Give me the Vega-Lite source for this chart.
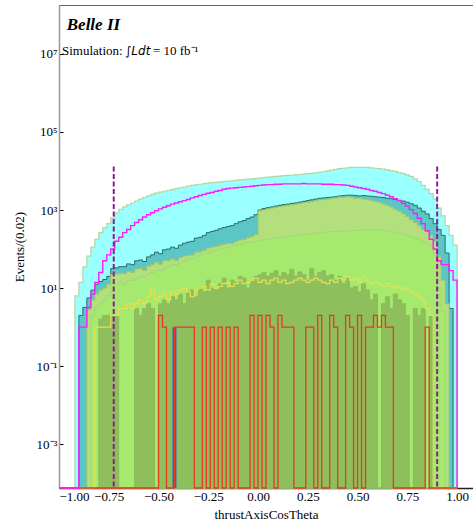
{
"$schema":"https://vega.github.io/schema/vega-lite/v6.json",
"width":414,"height":483,
"autosize":{"type":"none"},
"padding":{"left":59,"top":5,"right":0,"bottom":38},
"background":"white",
"config":{
 "view":{"stroke":"#666","strokeWidth":1},
 "mark":{"invalid":"show"},
 "axis":{"grid":false,"labelFont":"Liberation Serif","labelFontSize":13,"labelColor":"#000","titleFont":"Liberation Serif","titleFontSize":13,"titleFontWeight":"normal","titleColor":"#000","tickColor":"#000","tickSize":-4,"labelPadding":6,"zindex":1}
},
"data":{"values":[
{"x":-1.00,"c":0,"t":0,"g":0,"m":0,"o":0,"yl":0,"p":0,"r":0},
{"x":-0.98,"c":0,"t":0,"g":0,"m":0,"o":0,"yl":0,"p":0,"r":0},
{"x":-0.96,"c":0,"t":0,"g":0,"m":0,"o":0,"yl":0,"p":0,"r":0},
{"x":-0.94,"c":0,"t":0,"g":0,"m":0,"o":0,"yl":0,"p":0,"r":0},
{"x":-0.92,"c":6.3,"t":0,"g":0,"m":0,"o":0,"yl":0,"p":0,"r":0},
{"x":-0.90,"c":14,"t":2,"g":0,"m":0,"o":0,"yl":0,"p":1,"r":0},
{"x":-0.88,"c":35,"t":3.2,"g":0,"m":0,"o":0,"yl":0,"p":1,"r":0},
{"x":-0.86,"c":66,"t":5.6,"g":2.8,"m":0,"o":0,"yl":0,"p":3.2,"r":0},
{"x":-0.84,"c":112,"t":8.9,"g":5,"m":2,"o":0,"yl":0,"p":7,"r":0},
{"x":-0.82,"c":178,"t":12.6,"g":7.1,"m":3.2,"o":0,"yl":1,"p":14,"r":0},
{"x":-0.80,"c":263,"t":14.8,"g":8.9,"m":4,"o":1.6,"yl":1,"p":25,"r":0},
{"x":-0.78,"c":355,"t":16.6,"g":10,"m":5,"o":2,"yl":1,"p":50,"r":0},
{"x":-0.76,"c":447,"t":20,"g":12.6,"m":6.3,"o":2,"yl":1,"p":71,"r":0},
{"x":-0.74,"c":631,"t":31.6,"g":22.4,"m":12.6,"o":2,"yl":2,"p":100,"r":0},
{"x":-0.72,"c":851,"t":33,"g":22.9,"m":12.6,"o":2,"yl":2,"p":158,"r":0},
{"x":-0.70,"c":1047,"t":35.5,"g":24,"m":14.1,"o":0,"yl":3,"p":200,"r":0},
{"x":-0.68,"c":1202,"t":35.5,"g":23.4,"m":12.6,"o":0,"yl":3,"p":263,"r":0},
{"x":-0.66,"c":1349,"t":41.7,"g":26.9,"m":15.8,"o":0,"yl":4,"p":316,"r":0},
{"x":-0.64,"c":1514,"t":39.8,"g":25.1,"m":15.8,"o":0,"yl":3,"p":398,"r":0},
{"x":-0.62,"c":1698,"t":50,"g":30.9,"m":17.8,"o":3,"yl":4,"p":479,"r":0},
{"x":-0.60,"c":1905,"t":52.5,"g":31.6,"m":20,"o":2,"yl":5,"p":562,"r":0},
{"x":-0.58,"c":2089,"t":47.9,"g":28.2,"m":20,"o":3,"yl":4,"p":661,"r":0},
{"x":-0.56,"c":2291,"t":63,"g":36.3,"m":22.4,"o":4,"yl":6,"p":759,"r":0},
{"x":-0.54,"c":2512,"t":70.8,"g":39.8,"m":25.1,"o":3,"yl":9,"p":851,"r":0},
{"x":-0.52,"c":2692,"t":83.2,"g":45.7,"m":28.2,"o":0,"yl":5,"p":955,"r":0},
{"x":-0.50,"c":2884,"t":75.9,"g":40.7,"m":28.2,"o":4,"yl":6,"p":1072,"r":2},
{"x":-0.48,"c":3020,"t":95.5,"g":50.1,"m":31.6,"o":5,"yl":7,"p":1175,"r":1},
{"x":-0.46,"c":3162,"t":100,"g":51.3,"m":35.5,"o":4,"yl":5,"p":1288,"r":0},
{"x":-0.44,"c":3311,"t":112,"g":56.2,"m":39.8,"o":6,"yl":8,"p":1413,"r":0},
{"x":-0.42,"c":3548,"t":105,"g":51.3,"m":39.8,"o":5,"yl":7,"p":1514,"r":1},
{"x":-0.40,"c":3715,"t":126,"g":60.3,"m":44.7,"o":7,"yl":9,"p":1622,"r":1},
{"x":-0.38,"c":3890,"t":141,"g":66.1,"m":50,"o":4,"yl":10,"p":1738,"r":1},
{"x":-0.36,"c":4074,"t":151,"g":69.2,"m":56.2,"o":8,"yl":8,"p":1862,"r":1},
{"x":-0.34,"c":4266,"t":158,"g":70.8,"m":56.2,"o":9,"yl":6,"p":2042,"r":1},
{"x":-0.32,"c":4416,"t":191,"g":83.2,"m":63,"o":6,"yl":9,"p":2188,"r":0},
{"x":-0.30,"c":4571,"t":200,"g":85.1,"m":70.8,"o":10,"yl":10,"p":2344,"r":0},
{"x":-0.28,"c":4732,"t":224,"g":93.3,"m":75.9,"o":8,"yl":11,"p":2512,"r":1},
{"x":-0.26,"c":4898,"t":263,"g":107,"m":79.4,"o":16,"yl":9,"p":2692,"r":0},
{"x":-0.24,"c":5012,"t":282,"g":112,"m":89.1,"o":10,"yl":13,"p":2818,"r":1},
{"x":-0.22,"c":5129,"t":302,"g":117,"m":93.3,"o":9,"yl":10,"p":3020,"r":0},
{"x":-0.20,"c":5248,"t":331,"g":126,"m":100,"o":13,"yl":11,"p":3162,"r":1},
{"x":-0.18,"c":5370,"t":355,"g":132,"m":105,"o":18,"yl":13,"p":3388,"r":0},
{"x":-0.16,"c":5495,"t":380,"g":138,"m":112,"o":10,"yl":14,"p":3548,"r":1},
{"x":-0.14,"c":5623,"t":398,"g":141,"m":120,"o":16,"yl":11,"p":3631,"r":0},
{"x":-0.12,"c":5754,"t":447,"g":155,"m":126,"o":14,"yl":13,"p":3715,"r":1},
{"x":-0.10,"c":5888,"t":501,"g":170,"m":132,"o":20,"yl":16,"p":3802,"r":0},
{"x":-0.08,"c":6026,"t":537,"g":178,"m":141,"o":18,"yl":13,"p":3890,"r":0},
{"x":-0.06,"c":6166,"t":603,"g":195,"m":148,"o":10,"yl":14,"p":3981,"r":0},
{"x":-0.04,"c":6310,"t":661,"g":209,"m":151,"o":16,"yl":16,"p":4074,"r":2},
{"x":-0.02,"c":6457,"t":759,"g":234,"m":158,"o":20,"yl":18,"p":4169,"r":0},
{"x":0.00,"c":6607,"t":1000,"g":955,"m":166,"o":22,"yl":14,"p":4266,"r":2},
{"x":0.02,"c":6761,"t":1096,"g":1000,"m":174,"o":25,"yl":16,"p":4365,"r":0},
{"x":0.04,"c":6918,"t":1148,"g":1072,"m":178,"o":20,"yl":13,"p":4467,"r":2},
{"x":0.06,"c":7079,"t":1202,"g":1122,"m":186,"o":24,"yl":16,"p":4467,"r":1},
{"x":0.08,"c":7244,"t":1259,"g":1175,"m":191,"o":28,"yl":18,"p":4571,"r":0},
{"x":0.10,"c":7413,"t":1318,"g":1230,"m":200,"o":20,"yl":14,"p":4571,"r":2},
{"x":0.12,"c":7586,"t":1380,"g":1259,"m":204,"o":25,"yl":16,"p":4677,"r":1},
{"x":0.14,"c":7674,"t":1413,"g":1318,"m":209,"o":22,"yl":13,"p":4677,"r":1},
{"x":0.16,"c":7762,"t":1479,"g":1380,"m":214,"o":30,"yl":14,"p":4677,"r":1},
{"x":0.18,"c":7943,"t":1514,"g":1413,"m":224,"o":20,"yl":16,"p":4677,"r":0},
{"x":0.20,"c":8128,"t":1585,"g":1479,"m":229,"o":26,"yl":18,"p":4677,"r":0},
{"x":0.22,"c":8318,"t":1660,"g":1549,"m":234,"o":22,"yl":16,"p":4786,"r":0},
{"x":0.24,"c":8511,"t":1738,"g":1585,"m":240,"o":16,"yl":14,"p":4677,"r":1},
{"x":0.26,"c":8710,"t":1820,"g":1660,"m":251,"o":32,"yl":16,"p":4677,"r":1},
{"x":0.28,"c":8913,"t":1905,"g":1738,"m":257,"o":20,"yl":18,"p":4677,"r":0},
{"x":0.30,"c":9333,"t":1995,"g":1820,"m":263,"o":25,"yl":16,"p":4677,"r":2},
{"x":0.32,"c":9550,"t":2042,"g":1862,"m":269,"o":28,"yl":14,"p":4571,"r":0},
{"x":0.34,"c":10000,"t":2089,"g":1905,"m":275,"o":20,"yl":13,"p":4571,"r":0},
{"x":0.36,"c":10471,"t":2138,"g":1995,"m":282,"o":22,"yl":16,"p":4571,"r":2},
{"x":0.38,"c":10965,"t":2188,"g":2042,"m":282,"o":16,"yl":14,"p":4467,"r":1},
{"x":0.40,"c":11482,"t":2291,"g":2138,"m":288,"o":20,"yl":18,"p":4467,"r":0},
{"x":0.42,"c":11749,"t":2344,"g":2138,"m":288,"o":13,"yl":16,"p":4365,"r":0},
{"x":0.44,"c":12023,"t":2399,"g":2188,"m":295,"o":18,"yl":20,"p":4266,"r":2},
{"x":0.46,"c":12303,"t":2399,"g":2138,"m":295,"o":10,"yl":16,"p":4074,"r":1},
{"x":0.48,"c":12303,"t":2344,"g":1995,"m":302,"o":11,"yl":18,"p":3890,"r":0},
{"x":0.50,"c":12303,"t":2291,"g":2042,"m":302,"o":8,"yl":14,"p":3715,"r":2},
{"x":0.52,"c":12303,"t":2344,"g":1905,"m":309,"o":13,"yl":20,"p":3548,"r":0},
{"x":0.54,"c":12303,"t":2291,"g":1862,"m":316,"o":9,"yl":16,"p":3388,"r":1},
{"x":0.56,"c":12023,"t":2239,"g":1778,"m":316,"o":5,"yl":13,"p":3162,"r":1},
{"x":0.58,"c":11749,"t":2188,"g":1660,"m":316,"o":7,"yl":14,"p":3020,"r":2},
{"x":0.60,"c":11482,"t":2138,"g":1585,"m":309,"o":0,"yl":13,"p":2818,"r":1},
{"x":0.62,"c":11220,"t":2089,"g":1445,"m":302,"o":4,"yl":11,"p":2630,"r":2},
{"x":0.64,"c":10715,"t":1995,"g":1318,"m":295,"o":6,"yl":13,"p":2399,"r":1},
{"x":0.66,"c":10233,"t":1950,"g":1202,"m":282,"o":3,"yl":11,"p":2188,"r":1},
{"x":0.68,"c":9772,"t":1862,"g":1047,"m":263,"o":7,"yl":10,"p":1950,"r":0},
{"x":0.70,"c":9120,"t":1778,"g":933,"m":251,"o":5,"yl":11,"p":1738,"r":0},
{"x":0.72,"c":8511,"t":1698,"g":794,"m":240,"o":4,"yl":9,"p":1479,"r":0},
{"x":0.74,"c":7943,"t":1585,"g":676,"m":224,"o":2,"yl":10,"p":1259,"r":0},
{"x":0.76,"c":7244,"t":1445,"g":562,"m":209,"o":0,"yl":8,"p":1023,"r":0},
{"x":0.78,"c":6310,"t":1318,"g":479,"m":191,"o":3,"yl":7,"p":813,"r":0},
{"x":0.80,"c":5370,"t":1122,"g":398,"m":178,"o":2,"yl":6,"p":617,"r":0},
{"x":0.82,"c":4266,"t":933,"g":316,"m":158,"o":3,"yl":5,"p":447,"r":0},
{"x":0.84,"c":3388,"t":794,"g":282,"m":141,"o":0,"yl":3,"p":295,"r":1},
{"x":0.86,"c":2630,"t":603,"g":224,"m":126,"o":2,"yl":2,"p":178,"r":0},
{"x":0.88,"c":1905,"t":447,"g":158,"m":79,"o":0,"yl":0,"p":100,"r":0},
{"x":0.90,"c":1122,"t":316,"g":63,"m":10,"o":0,"yl":0,"p":50,"r":0},
{"x":0.92,"c":708,"t":224,"g":16,"m":2.5,"o":0,"yl":0,"p":40,"r":0},
{"x":0.94,"c":398,"t":79,"g":4,"m":0,"o":0,"yl":0,"p":40,"r":0},
{"x":0.96,"c":224,"t":3,"g":0,"m":0,"o":0,"yl":0,"p":28,"r":0},
{"x":0.98,"c":126,"t":0,"g":0,"m":0,"o":0,"yl":0,"p":16,"r":0},
{"x":1.00,"c":0,"t":0,"g":0,"m":0,"o":0,"yl":0,"p":0,"r":0}
]},
"layer":[
 {"mark":{"type":"area","interpolate":"step-after","fill":"#99ffff","stroke":"#b3d8a4","strokeWidth":1.2},
  "encoding":{
   "x":{"field":"x","type":"quantitative","title":"thrustAxisCosTheta","scale":{"domain":[-1,1.08],"nice":false,"zero":false},
    "axis":{"values":[-1,-0.75,-0.5,-0.25,0,0.25,0.5,0.75,1],"format":".2f","domainColor":"#222","domainWidth":1.5,"titlePadding":5}},
   "y":{"field":"c","type":"quantitative","title":"Events/(0.02)","scale":{"type":"log","domain":[7.6e-5,1.78e8],"clamp":true,"nice":false},
    "axis":{"values":[0.001,0.1,10,1000,100000,10000000],"domainColor":"#999","domainWidth":1.5,"titlePadding":10,
     "labelExpr":"round(log(datum.value)/LN10)==7?'10⁷':round(log(datum.value)/LN10)==5?'10⁵':round(log(datum.value)/LN10)==3?'10³':round(log(datum.value)/LN10)==1?'10¹':round(log(datum.value)/LN10)==-1?'10⁻¹':'10⁻³'"}}}},
 {"mark":{"type":"area","interpolate":"step-after","fill":"#5cc6c6","stroke":"#2c6b6b","strokeWidth":1},
  "encoding":{"x":{"field":"x","type":"quantitative","title":"thrustAxisCosTheta"},"y":{"field":"t","type":"quantitative","title":"Events/(0.02)"}}},
 {"mark":{"type":"area","interpolate":"step-after","fill":"#b3df7d","stroke":"#9cc86a","strokeWidth":1},
  "encoding":{"x":{"field":"x","type":"quantitative","title":"thrustAxisCosTheta"},"y":{"field":"g","type":"quantitative","title":"Events/(0.02)"}}},
 {"mark":{"type":"area","interpolate":"step-after","fill":"#a5ea6e","stroke":"#a0d878","strokeWidth":1},
  "encoding":{"x":{"field":"x","type":"quantitative","title":"thrustAxisCosTheta"},"y":{"field":"m","type":"quantitative","title":"Events/(0.02)"}}},
 {"mark":{"type":"area","interpolate":"step-after","fill":"#8fbf5c","stroke":"#88b658","strokeWidth":0.8},
  "encoding":{"x":{"field":"x","type":"quantitative","title":"thrustAxisCosTheta"},"y":{"field":"o","type":"quantitative","title":"Events/(0.02)"}}},
 {"mark":{"type":"line","interpolate":"step-after","color":"#e2e254","strokeWidth":1.2},
  "encoding":{"x":{"field":"x","type":"quantitative","title":"thrustAxisCosTheta"},"y":{"field":"yl","type":"quantitative","title":"Events/(0.02)"}}},
 {"data":{"values":[{"bx":-0.43,"bx2":-0.41,"bv":1,"bb":0.00001}]},
  "mark":{"type":"rect","color":"#3b5bd6"},
  "encoding":{"x":{"field":"bx","type":"quantitative","title":"thrustAxisCosTheta"},"x2":{"field":"bx2"},
   "y":{"field":"bv","type":"quantitative","title":"Events/(0.02)"},"y2":{"field":"bb"}}},
 {"mark":{"type":"line","interpolate":"step-after","color":"#e8381e","strokeWidth":1.3},
  "encoding":{"x":{"field":"x","type":"quantitative","title":"thrustAxisCosTheta"},"y":{"field":"r","type":"quantitative","title":"Events/(0.02)"}}},
 {"mark":{"type":"line","interpolate":"step-after","color":"#ff1aff","strokeWidth":1.4},
  "encoding":{"x":{"field":"x","type":"quantitative","title":"thrustAxisCosTheta"},"y":{"field":"p","type":"quantitative","title":"Events/(0.02)"}}},
 {"data":{"values":[{"cut":-0.725,"top":13000,"bot":0.00001},{"cut":0.9,"top":13000,"bot":0.00001}]},
  "mark":{"type":"rule","color":"#8b1e8b","strokeWidth":2,"strokeDash":[5,2.5]},
  "encoding":{"x":{"field":"cut","type":"quantitative","title":"thrustAxisCosTheta"},
   "y":{"field":"top","type":"quantitative","title":"Events/(0.02)"},"y2":{"field":"bot"}}},
 {"data":{"values":[{"tx":-0.961,"ty":54000000,"label":"Belle II"}]},
  "mark":{"type":"text","font":"Liberation Serif","fontSize":17,"fontWeight":"bold","fontStyle":"italic","align":"left","baseline":"middle","color":"#000"},
  "encoding":{"x":{"field":"tx","type":"quantitative","title":"thrustAxisCosTheta"},"y":{"field":"ty","type":"quantitative","title":"Events/(0.02)"},"text":{"field":"label"}}},
 {"data":{"values":[{"tx":-0.985,"ty":12000000,"label":"Simulation:"},{"tx":-0.528,"ty":12000000,"label":"= 10 fb⁻¹"}]},
  "mark":{"type":"text","font":"Liberation Serif","fontSize":13,"align":"left","baseline":"middle","color":"#000"},
  "encoding":{"x":{"field":"tx","type":"quantitative","title":"thrustAxisCosTheta"},"y":{"field":"ty","type":"quantitative","title":"Events/(0.02)"},"text":{"field":"label"}}},
 {"data":{"values":[{"tx":-0.668,"ty":12000000,"label":"∫Ldt"}]},
  "mark":{"type":"text","font":"DejaVu Sans","fontSize":12,"fontStyle":"italic","align":"left","baseline":"middle","color":"#000"},
  "encoding":{"x":{"field":"tx","type":"quantitative","title":"thrustAxisCosTheta"},"y":{"field":"ty","type":"quantitative","title":"Events/(0.02)"},"text":{"field":"label"}}}
]
}
